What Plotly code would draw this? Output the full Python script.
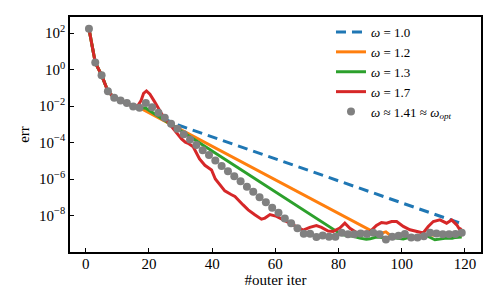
import plotly.graph_objects as go

# ---- data (log10 of the error) ----
head_iter = [1, 3, 5, 7, 9, 11, 13, 15, 17]
head_log_err = [2.24, 0.38, -0.31, -1.19, -1.55, -1.69, -1.84, -2.02, -2.09]

w10_iter = [29.2, 119]
w10_log_err = [-3.04, -8.45]

w12_iter = [91, 93, 95, 97, 99, 101, 103, 105, 107, 109, 111, 113, 115, 117, 119]
w12_log_err = [-8.90, -9.00, -8.90, -9.18, -9.10, -9.10, -9.20, -9.24, -9.15, -9.05,
               -9.10, -9.02, -9.20, -9.15, -9.11]

w13_iter = [19, 81, 83, 85, 86.7, 88.8, 90, 92, 94, 97, 100.5, 102.6, 105, 107.9,
            110.5, 112, 114.2, 116, 117, 119]
w13_log_err = [-2.12, -9.05, -9.10, -9.15, -9.24, -9.30, -9.28, -9.18, -9.20, -9.20,
               -9.29, -9.18, -9.20, -9.11, -9.33, -9.28, -9.24, -9.25, -9.20, -9.18]

w17_iter = [16.5, 17.5, 18.3, 19.2, 20.3, 21.8, 23.9, 25.5, 27.6, 29.2, 30.3, 31.5, 32.4,
            34, 36, 37.7, 39.8, 41, 42, 44, 46, 47.2, 49.8, 51.4, 53.5, 55.6, 56.7, 58.3,
            60.4, 62.5, 64.6, 66.7, 68.8, 70.9, 73, 74.6, 76.7, 78.3, 80.4, 82, 83.6,
            85.7, 87.8, 89.9, 92, 93.6, 95.2, 96.8, 98.4, 100.5, 102.6, 104.7, 106.8,
            108.4, 110, 112.1, 114.2, 115.8, 117.4, 118.4, 119]
w17_log_err = [-1.97, -1.70, -1.30, -1.17, -1.35, -1.77, -2.40, -2.77, -3.22, -3.59,
               -3.80, -3.98, -4.04, -4.23, -4.90, -5.25, -5.50, -6.00, -6.20, -6.65,
               -6.85, -6.96, -7.42, -7.69, -7.96, -8.20, -8.14, -7.95, -8.05, -8.24,
               -8.42, -8.65, -8.80, -8.65, -8.55, -8.65, -8.85, -8.87, -8.69, -8.42,
               -8.70, -8.93, -8.90, -8.90, -8.55, -8.38, -8.42, -8.33, -8.33, -8.60,
               -8.78, -8.87, -8.96, -8.60, -8.33, -8.24, -8.42, -8.24, -8.51, -8.78,
               -8.69]

opt_iter = list(range(1, 120, 2))
opt_log_err = [2.24, 0.38, -0.31, -1.19, -1.55, -1.69, -1.84, -2.02, -2.09, -1.84,
               -2.06, -2.37, -2.64, -2.97, -3.24, -3.55, -3.84, -4.13, -4.43, -4.68,
               -4.99, -5.28, -5.57, -5.85, -6.12, -6.43, -6.70, -7.00, -7.28, -7.58,
               -7.85, -8.16, -8.43, -8.70, -9.00, -9.00, -9.18, -9.09, -9.17, -9.16,
               -8.95, -9.03, -9.03, -8.98, -9.02, -8.95, -9.03, -9.31, -9.16, -9.11,
               -9.02, -9.20, -9.20, -9.13, -8.95, -8.98, -9.03, -9.03, -9.02, -8.95]

x_ticks = [0, 20, 40, 60, 80, 100, 120]
y_tick_exps = [2, 0, -2, -4, -6, -8]

labels = ["<i>ω</i> = 1.0", "<i>ω</i> = 1.2", "<i>ω</i> = 1.3", "<i>ω</i> = 1.7",
          "<i>ω</i> ≈ 1.41 ≈ <i>ω<sub>opt</sub></i>"]
colors = ["#1f77b4", "#ff7f0e", "#2ca02c", "#d62728", "#808080"]


def to_err(logs):
    return [10 ** v for v in logs]


series = [
    (head_iter + w10_iter, head_log_err + w10_log_err, "10px,6px"),
    (head_iter + w12_iter, head_log_err + w12_log_err, "solid"),
    (head_iter + w13_iter, head_log_err + w13_log_err, "solid"),
    (head_iter[:-1] + w17_iter, head_log_err[:-1] + w17_log_err, "solid"),
]

fig = go.Figure()
for (xs, ls, dash), lab, col in zip(series, labels[:4], colors[:4]):
    fig.add_trace(go.Scatter(x=xs, y=to_err(ls), mode="lines", name=lab,
                             line=dict(color=col, width=3, dash=dash)))
fig.add_trace(go.Scatter(x=opt_iter, y=to_err(opt_log_err), mode="markers",
                         name=labels[4],
                         marker=dict(color=colors[4], size=8, line=dict(width=0))))

font = "Liberation Serif, Times New Roman, serif"
# the page body has an 8px default margin; the figure is sized to fit the window
fig.update_layout(
    width=490, height=299,
    margin=dict(l=62, r=17, t=9, b=55, autoexpand=False),
    paper_bgcolor="white", plot_bgcolor="white",
    font=dict(family=font, size=15, color="black"),
    showlegend=True,
    legend=dict(x=0.635, y=1.0, xanchor="left", yanchor="top",
                bgcolor="rgba(0,0,0,0)", borderwidth=0,
                font=dict(family=font, size=13), tracegroupgap=0),
)
fig.update_xaxes(
    range=[-5, 125.1], tickvals=x_ticks, ticktext=[str(t) for t in x_ticks],
    showline=True, linecolor="black", linewidth=1.5, mirror=True,
    ticks="inside", ticklen=4, tickwidth=1, tickcolor="black",
    ticklabelstandoff=-3,
    showgrid=False, zeroline=False, automargin=False,
    title=dict(text="#outer iter", font=dict(family=font, size=15), standoff=4),
)
fig.update_yaxes(
    type="log", range=[-10, 2.88],
    tickvals=[10 ** e for e in y_tick_exps],
    ticktext=["10<sup>%s</sup>" % str(e).replace("-", "−") for e in y_tick_exps],
    showline=True, linecolor="black", linewidth=1.5, mirror=True,
    ticks="inside", ticklen=4, tickwidth=1, tickcolor="black",
    showgrid=False, zeroline=False, automargin=False,
    title=dict(text="err", font=dict(family=font, size=15), standoff=6),
)

fig.write_html("out.html")
